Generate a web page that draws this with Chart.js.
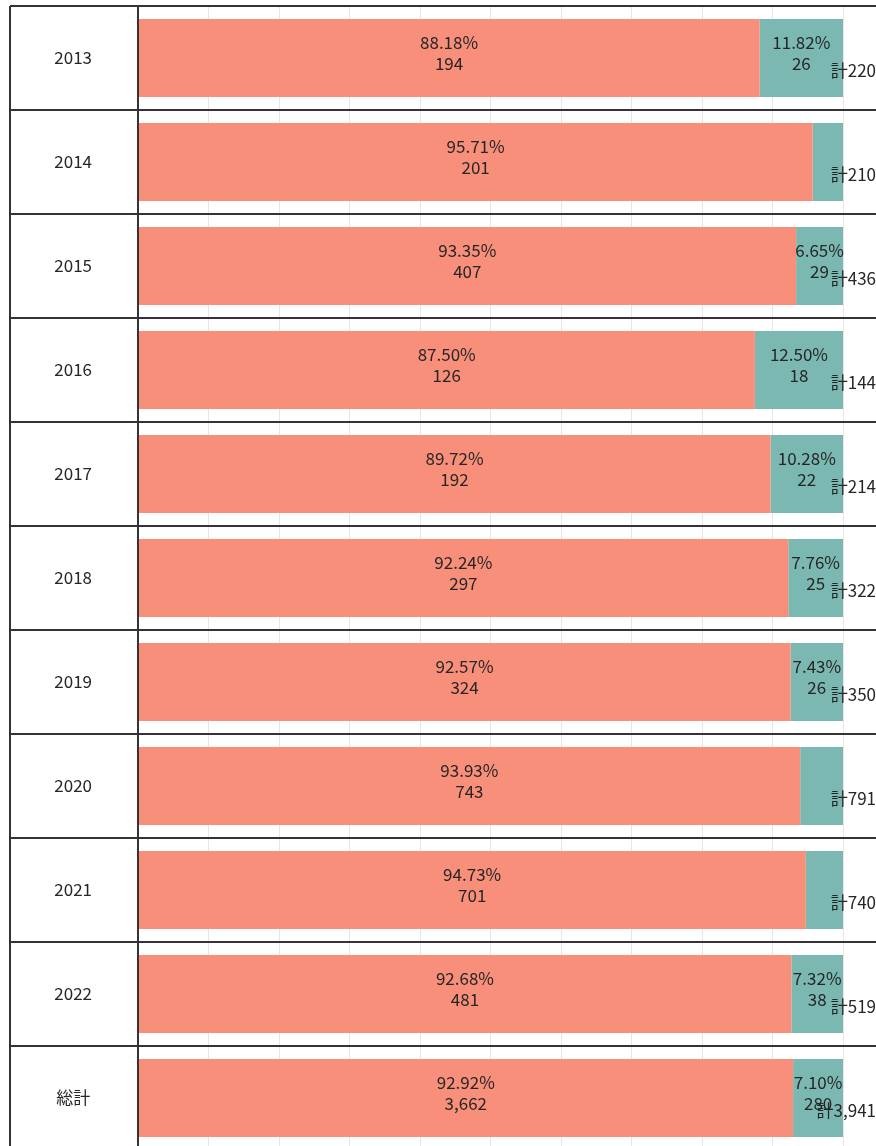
<!DOCTYPE html>
<html>
<head>
<meta charset="utf-8">
<script src="https://cdn.jsdelivr.net/npm/chart.js@4.4.1/dist/chart.umd.min.js"></script>
<style>
  html, body { margin: 0; padding: 0; overflow: hidden; background: #fff; }
</style>
</head>
<body>
<canvas id="chart" width="876" height="1150"></canvas>
<script>
// rows, top to bottom
const years = ['2013', '2014', '2015', '2016', '2017', '2018', '2019', '2020', '2021', '2022', '総計'];
// share of each row (%)
const mainPct  = [88.18, 95.71, 93.35, 87.50, 89.72, 92.24, 92.57, 93.93, 94.73, 92.68, 92.92];
const otherPct = [11.82, 4.29, 6.65, 12.50, 10.28, 7.76, 7.43, 6.07, 5.27, 7.32, 7.10];
// counts
const mainCount  = [194, 201, 407, 126, 192, 297, 324, 743, 701, 481, 3662];
const otherCount = [26, 9, 29, 18, 22, 25, 26, 48, 39, 38, 280];
const totals     = [220, 210, 436, 144, 214, 322, 350, 791, 740, 519, 3941];

const FONT = '"Noto Sans CJK JP", "Noto Sans", sans-serif';
const fmt = n => n.toLocaleString('en-US');

// percent + count inside each segment, total to the right
const barLabels = {
    id: 'barLabels',
    afterDatasetsDraw(chart) {
        const ctx = chart.ctx;
        const counts = [mainCount, otherCount];
        ctx.save();
        ctx.font = '17px ' + FONT;
        ctx.fillStyle = '#262626';
        ctx.textBaseline = 'middle';
        ctx.textAlign = 'center';
        chart.data.datasets.forEach((ds, di) => {
            chart.getDatasetMeta(di).data.forEach((bar, i) => {
                if (ds.data[i] < 6.5) return; // small segments get no label
                const cx = (bar.x + bar.base) / 2;
                ctx.fillText(ds.data[i].toFixed(2) + '%', cx, bar.y - 15);
                ctx.fillText(fmt(counts[di][i]), cx, bar.y + 6);
            });
        });
        ctx.textAlign = 'right';
        chart.getDatasetMeta(1).data.forEach((bar, i) => {
            ctx.fillText('計' + fmt(totals[i]), chart.width, bar.y + 13);
        });
        ctx.restore();
    }
};

// dark table borders around the rows
const tableLines = {
    id: 'tableLines',
    afterDraw(chart) {
        const ctx = chart.ctx;
        const y = chart.scales.y;
        const area = chart.chartArea;
        const step = y.getPixelForValue(1) - y.getPixelForValue(0);
        ctx.save();
        ctx.strokeStyle = '#333';
        ctx.lineWidth = 2;
        ctx.beginPath();
        for (let i = 0; i <= years.length; i++) {
            const py = y.getPixelForValue(i) - step / 2;
            ctx.moveTo(y.left, py);
            ctx.lineTo(chart.width, py);
        }
        ctx.moveTo(y.left, area.top);
        ctx.lineTo(y.left, chart.height);
        ctx.moveTo(area.left, area.top);
        ctx.lineTo(area.left, chart.height);
        ctx.stroke();
        ctx.restore();
    }
};

new Chart(document.getElementById('chart'), {
    type: 'bar',
    data: {
        labels: years,
        datasets: [
            {
                data: mainPct,
                backgroundColor: '#F88F7A',
                categoryPercentage: 1,
                barPercentage: 0.75
            },
            {
                data: otherPct,
                backgroundColor: '#7AB8B1',
                categoryPercentage: 1,
                barPercentage: 0.75
            }
        ]
    },
    options: {
        indexAxis: 'y',
        responsive: false,
        animation: false,
        devicePixelRatio: 1,
        layout: { padding: { left: 10, right: 33, top: 6, bottom: 0 } },
        plugins: {
            legend: { display: false },
            tooltip: { enabled: false }
        },
        scales: {
            x: {
                stacked: true,
                min: 0,
                max: 100,
                ticks: { display: false, stepSize: 10 },
                border: { display: false },
                grid: { color: '#e6e6e6', drawTicks: false },
                afterFit(scale) {
                    scale.height = 0;
                    scale.paddingLeft = 0;
                    scale.paddingRight = 0;
                }
            },
            y: {
                stacked: true,
                border: { display: false },
                grid: { display: false },
                ticks: {
                    crossAlign: 'center',
                    padding: 38,
                    color: '#262626',
                    font: { family: FONT, size: 17 }
                },
                afterFit(scale) {
                    scale.width = 128;
                    scale.paddingTop = 0;
                    scale.paddingBottom = 0;
                }
            }
        }
    },
    plugins: [barLabels, tableLines]
});
</script>
</body>
</html>
